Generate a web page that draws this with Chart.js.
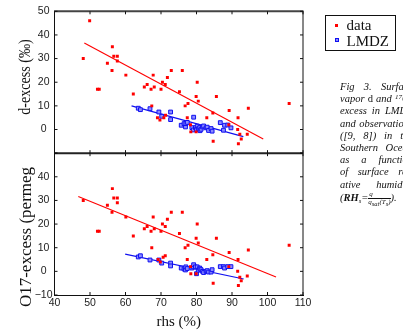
<!DOCTYPE html>
<html>
<head>
<meta charset="utf-8">
<script src="https://cdn.jsdelivr.net/npm/chart.js@4/dist/chart.umd.min.js"></script>
<style>
  html, body { margin:0; padding:0; background:#fff; width:403px; height:330px; overflow:hidden; }
  #wrap { position:relative; width:403px; height:330px; overflow:hidden; }
  #c { position:absolute; left:0; top:0; }
  .ytitle { position:absolute; font-family:'Liberation Serif', serif; white-space:nowrap; color:#111; line-height:1; }
  #legend { position:absolute; left:325px; top:15px; width:71px; height:36px; border:1px solid #111; box-sizing:border-box; font-family:'Liberation Serif', serif; font-size:15px; color:#111; }
  #legend .mk { position:absolute; box-sizing:border-box; }
  #legend .tx { position:absolute; line-height:15px; white-space:nowrap; }
  #cap { position:absolute; left:340px; top:81px; width:73px; font:italic 10.5px/12.2px 'Liberation Serif', serif; color:#111; text-align:justify; text-align-last:justify; }
  #cap sup { font-size:7px; line-height:0; vertical-align:3px; }
  #cap .up { font-style:normal; }
  #cap sub { font-size:6.5px; line-height:0; vertical-align:-2px; }
  .frac { display:inline-block; vertical-align:middle; text-align:center; font-size:7px; line-height:7px; }
  .frac .num { display:block; border-bottom:0.6px solid #111; padding:0 1px; }
  .frac .den { display:block; }
</style>
</head>
<body>
<div id="wrap">
  <canvas id="c" width="403" height="330"></canvas>
  <div class="ytitle" id="tD" style="left:25px; top:77px; font-size:16px; transform:translate(-50%,-50%) rotate(-90deg) scaleX(0.88);">d-excess (‰)</div>
  <div class="ytitle" id="tO" style="left:25px; top:237px; font-size:17px; transform:translate(-50%,-50%) rotate(-90deg);">O17-excess (permeg</div>
  <div id="legend"></div>
  <div id="cap">Fig 3. Surface<br>vapor <span class="up">d</span> and <sup>17</sup>O-<br>excess in LMDZ<br>and observations<br>([9, 8]) in the<br>Southern Ocean<br>as a function<br>of surface rel-<br>ative humidity<br>(<b>RH</b><sub>s</sub>=<span class="frac"><span class="num">q</span><span class="den">q<sub>sat</sub>(T<sub>s</sub>)</span></span>).</div>
</div>
<script>
// ---- data ----
const xTicks = [40, 50, 60, 70, 80, 90, 100, 110];
const yTicksD = [0, 10, 20, 30, 40, 50];
const yTicksO = [-10, 0, 10, 20, 30, 40];

// observations (red) — d-excess panel
const rhsObs = [48.1, 49.9, 52.1, 52.6, 54.9, 56.2, 56.3, 56.7, 57.7, 57.7, 60.1, 62.2, 65.3, 66.1, 67.2, 67.4, 67.8, 68.1, 69.0, 69.7, 70.0, 70.4, 70.8, 71.2, 71.3, 71.8, 72.9, 75.2, 76.0, 76.8, 77.4, 77.6, 78.3, 78.4, 79.9, 79.9, 80.2, 80.5, 82.9, 84.6, 84.7, 85.6, 89.1, 89.2, 91.6, 91.7, 91.8, 92.2, 92.6, 94.3, 94.6, 106.1];
const dObs   = [30, 46, 17, 17, 28, 25, 35, 31, 31, 29, 23, 15, 18, 19, 17, 10, 23, 18, 5, 4, 17, 20, 5, 19, 6, 22, 25, 16, 25, 10, 5, 11, 2, -1, -1, 14, 20, 12, 5, 7, -5, 14, 2, 8, 0, 5, -6, -2, -4, -2, 9, 11];

// observations (red) — O17-excess panel
const rhsObsO = [48.1, 52.1, 52.6, 54.9, 56.2, 56.3, 56.7, 57.7, 57.7, 60.1, 62.2, 65.3, 66.1, 67.2, 67.4, 67.8, 68.1, 69.2, 69.8, 70.0, 70.4, 70.6, 71.2, 71.2, 71.8, 72.9, 75.2, 76.0, 76.8, 77.4, 77.6, 78.3, 78.4, 79.9, 79.9, 80.2, 80.5, 82.9, 84.6, 84.7, 85.6, 89.1, 89.2, 91.6, 91.7, 91.8, 92.2, 92.6, 94.3, 94.6, 106.1];
const o17Obs  = [30, 17, 17, 28, 25, 35, 31, 31, 29, 23, 15, 18, 19, 17, 10, 23, 18, 5, 4, 17, 20, 6, 19, 6.6, 22, 25, 16, 25, 10, 5, 11, 2, -1, -1, 14, 20, 12, 5, 7, -5, 14, 2, 8, 0, 5, -6, -2.5, -4, -2, 9, 11];

// LMDZ model (blue)
const rhsModel = [63.6, 64.2, 66.9, 69.4, 70.2, 72.7, 72.7, 75.7, 76.5, 76.9, 77.0, 77.4, 78.7, 79.1, 79.2, 79.7, 80.0, 80.2, 80.5, 80.9, 81.0, 81.3, 81.7, 82.0, 82.7, 83.0, 83.4, 84.1, 84.4, 86.7, 87.6, 87.9, 88.8, 89.7];
const dModel   = [9.0, 8.4, 8.8, 7.4, 5.6, 7.4, 4.2, 1.8, 2.5, 1.1, 2.5, 3.0, 0.8, -0.2, 5.2, 0.8, 0.0, 1.4, 0.3, 0.8, -0.5, 0.1, 1.1, 1.5, 0.7, 1.0, -0.4, 0.4, -0.7, 2.9, -0.3, 1.8, 1.9, 0.7];
const o17Model = [6.1, 6.6, 4.8, 4.8, 3.5, 3.5, 2.3, 1.4, 1.0, 0.6, 1.9, 1.2, 1.4, 1.9, 2.8, 1.9, -1.0, 1.9, 0.5, 1.4, 1.0, 0.7, 0.0, -0.5, 0.0, 0.3, -0.3, -0.3, 0.7, 2.0, 2.0, 1.4, 2.0, 2.0];

// regression lines (end points)
const fitObsDx = [48.4, 98.8],  fitObsDy = [36.6, -4.0];
const fitModDx = [61.7, 93.2],  fitModDy = [10.0, -3.0];
const fitObsOx = [46.7, 102.4], fitObsOy = [31.7, -2.4];
const fitModOx = [59.9, 93.3],  fitModOy = [7.3, -3.2];

// ---- chart ----
const pts = (xs, ys) => xs.map((x, i) => ({ x: x, y: ys[i] }));
const RED = '#ff0000', BLUE = '#1010f0', BLUEFILL = '#8a8aff';

const redPt = { type: 'scatter', pointStyle: 'rect', pointRadius: 2.1, pointHoverRadius: 2.1, backgroundColor: RED, borderColor: RED, borderWidth: 0, showLine: false };
const bluePt = { type: 'scatter', pointStyle: 'rect', pointRadius: 2.7, pointHoverRadius: 2.7, backgroundColor: BLUEFILL, borderColor: BLUE, borderWidth: 1, showLine: false };
const fitLine = (c) => ({ type: 'scatter', showLine: true, pointRadius: 0, borderColor: c, borderWidth: 1.1, fill: false });

const datasets = [
  Object.assign({ label: 'data', legend: true, data: pts(rhsObs, dObs), yAxisID: 'yD' }, redPt),
  Object.assign({ label: 'data', data: pts(rhsObsO, o17Obs), yAxisID: 'yO' }, redPt),
  Object.assign({ label: 'red fit d', data: pts(fitObsDx, fitObsDy), yAxisID: 'yD' }, fitLine(RED)),
  Object.assign({ label: 'red fit O17', data: pts(fitObsOx, fitObsOy), yAxisID: 'yO' }, fitLine(RED)),
  Object.assign({ label: 'LMDZ', legend: true, data: pts(rhsModel, dModel), yAxisID: 'yD' }, bluePt),
  Object.assign({ label: 'LMDZ', data: pts(rhsModel, o17Model), yAxisID: 'yO' }, bluePt),
  Object.assign({ label: 'blue fit d', data: pts(fitModDx, fitModDy), yAxisID: 'yD' }, fitLine(BLUE)),
  Object.assign({ label: 'blue fit O17', data: pts(fitModOx, fitModOy), yAxisID: 'yO' }, fitLine(BLUE))
];

const tickFont = { family: 'Liberation Sans', size: 10.5 };
const fmt = v => (v < 0 ? '\u2212' + Math.abs(v) : String(v));

function yAxis(list, pad) {
  return {
    type: 'linear', position: 'left', stack: 'panels', stackWeight: 1,
    min: -10, max: 50,
    ticks: { stepSize: 10, color: '#222', font: tickFont, crossAlign: 'center', padding: pad, autoSkip: false,
             callback: v => (list.includes(v) ? fmt(v) : '') },
    grid: { display: true, drawOnChartArea: false, drawTicks: false },
    border: { display: true, color: '#111', width: 1 },
    afterFit: s => { s.width = 54.5; }
  };
}

const framePlugin = {
  id: 'frame',
  afterDraw(chart) {
    const { ctx, chartArea: a, scales } = chart;
    const x = scales.x, yD = scales.yD, yO = scales.yO;
    ctx.save();
    const seg = (x1, y1, x2, y2, w, c) => { ctx.beginPath(); ctx.lineWidth = w; ctx.strokeStyle = c; ctx.moveTo(x1, y1); ctx.lineTo(x2, y2); ctx.stroke(); };
    seg(a.left - 0.5, a.top, a.right + 0.5, a.top, 2, '#444');
    seg(a.right, a.top, a.right, a.bottom, 1, '#111');
    const mid = Math.min(yD.bottom, yO.bottom);
    seg(a.left, mid, a.right, mid, 2, '#222');
    const tl = 3;
    x.ticks.forEach(t => {
      const px = x.getPixelForValue(t.value);
      [[yD.top, 1], [yD.bottom, -1], [yO.top, 1], [yO.bottom, -1]].forEach(([py, d]) => seg(px, py, px, py + d * tl, 1, '#111'));
    });
    [yD, yO].forEach(s => s.ticks.forEach(t => {
      const py = s.getPixelForValue(t.value);
      seg(a.left, py, a.left + tl, py, 1, '#111');
      seg(a.right, py, a.right - tl, py, 1, '#111');
    }));
    ctx.restore();
  }
};

const chart = new Chart(document.getElementById('c'), {
  type: 'scatter',
  data: { datasets: datasets },
  options: {
    responsive: false, devicePixelRatio: 1, animation: false,
    layout: { padding: { top: 11, right: 100, bottom: 0, left: 0 } },
    plugins: { legend: { display: false }, tooltip: { enabled: false } },
    scales: {
      x: {
        type: 'linear', position: 'bottom', min: 40, max: 110,
        ticks: { stepSize: 10, color: '#222', font: tickFont, padding: 2, maxRotation: 0, autoSkip: false,
                 callback: v => (xTicks.includes(v) ? String(v) : '') },
        grid: { display: true, drawOnChartArea: false, drawTicks: false },
        border: { display: true, color: '#111', width: 1 },
        title: { display: true, text: 'rhs (%)', color: '#111', font: { family: 'Liberation Serif', size: 15, lineHeight: 1 }, padding: { top: 0, bottom: 0 } },
        afterFit: s => { s.height = 35; }
      },
      yO: yAxis(yTicksO, 2),
      yD: yAxis(yTicksD, 5)
    }
  },
  plugins: [framePlugin]
});

// HTML legend built from the chart's datasets
const lg = document.getElementById('legend');
chart.data.datasets.filter(d => d.legend).forEach((d, i) => {
  const cy = 9 + i * 15.3;
  const mk = document.createElement('div');
  mk.className = 'mk';
  const sz = d.borderWidth ? 4 : 3;
  mk.style.cssText = `left:${10.7 - sz / 2}px; top:${cy - sz / 2}px; width:${sz}px; height:${sz}px; background:${d.backgroundColor}; border:${d.borderWidth ? '1px solid ' + d.borderColor : 'none'};`;
  lg.appendChild(mk);
  const tx = document.createElement('div');
  tx.className = 'tx';
  tx.style.left = '20.5px';
  tx.style.top = (cy - 6.8) + 'px';
  tx.textContent = d.label;
  lg.appendChild(tx);
});
</script>
</body>
</html>
